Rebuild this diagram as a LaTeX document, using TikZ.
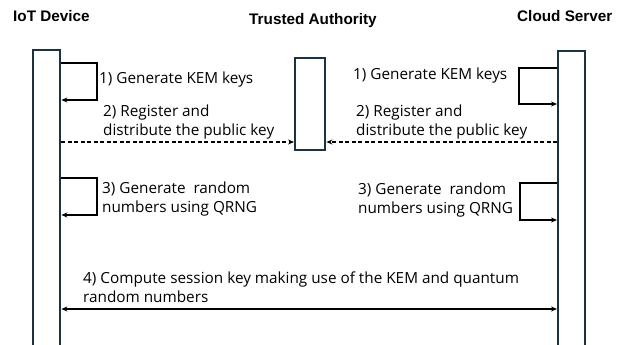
\documentclass[tikz,border=0pt]{standalone}
\usepackage{fontspec}
\setmainfont{Liberation Sans}
\newfontfamily\bodyfont{Open Sans}
\usetikzlibrary{arrows.meta,positioning}
\definecolor{barc}{HTML}{1B3340}
\tikzset{
  bar/.style={draw=barc, line width=2.4pt, fill=white, inner sep=0pt, minimum width=#1},
  head/.style={font=\bfseries\fontsize{15.3}{18}\selectfont, anchor=base west, inner sep=0pt},
  lbl/.style={font=\bodyfont\fontsize{15.3}{18.5}\selectfont, align=left, inner sep=0pt},
  msg/.style={line width=1.1pt, -{Stealth[length=6pt,width=5pt]}},
  dmsg/.style={msg, dash pattern=on 4pt off 2.5pt},
}
\begin{document}
\begin{tikzpicture}[x=1pt,y=-1pt]
\useasboundingbox (0,0) rectangle (630,345);
\clip (0,0) rectangle (630,345);
% headers
\node[head] (hiot) at (13,22) {IoT Device};
\node[head] (hta) at (249,25) {Trusted Authority};
\node[head] (hcs) at (517,22) {Cloud Server};
% lifelines
\node[bar=27pt, minimum height=310pt, anchor=north west] (iot) at (32,49) {};
\node[bar=30pt, minimum height=92pt, anchor=north west] (ta) at (294,57) {};
\node[bar=27pt, minimum height=310pt, anchor=north west] (cs) at (557,50) {};
% IoT self-loop 1
\coordinate (a1) at (iot.north east |- 0,63);
\coordinate (a2) at (iot.north east |- 0,100);
\draw[msg] (a1) -| (97,100) -- (a2);
\node[lbl, anchor=west] (t1) at (99,80) {1) Generate KEM keys};
% Cloud self-loop 1
\coordinate (c1) at (cs.north west |- 0,68);
\coordinate (c2) at (cs.north west |- 0,104);
\draw[msg] (c1) -| (519,104) -- (c2);
\node[lbl, anchor=west] (t1c) at (353,76) {1) Generate KEM keys};
% register
\coordinate (r1) at (iot.north east |- 0,142);
\coordinate (r2) at (ta.north west |- 0,142);
\coordinate (r3) at (cs.north west |- 0,142);
\coordinate (r4) at (ta.north east |- 0,142);
\draw[dmsg] (r1) -- (r2);
\draw[dmsg] (r3) -- (r4);
\node[lbl, anchor=south west] (t2) at (103,139) {2) Register and\\distribute the public key};
\node[lbl, anchor=south west] (t2c) at (356,139) {2) Register and\\distribute the public key};
% IoT self-loop 3
\coordinate (b1) at (iot.north east |- 0,178);
\coordinate (b2) at (iot.north east |- 0,215);
\draw[msg] (b1) -| (97,215) -- (b2);
\node[lbl, anchor=west] (t3) at (102,199) {3) Generate~~random\\numbers using QRNG};
% Cloud self-loop 3
\coordinate (d1) at (cs.north west |- 0,183);
\coordinate (d2) at (cs.north west |- 0,220);
\draw[msg] (d1) -| (520,220) -- (d2);
\node[lbl, anchor=west] (t3c) at (358,200) {3) Generate~~random\\numbers using QRNG};
% session key
\coordinate (s1) at (iot.north east |- 0,309);
\coordinate (s2) at (cs.north west |- 0,309);
\draw[msg, {Stealth[length=6pt,width=5pt]}-{Stealth[length=6pt,width=5pt]}] (s1) -- (s2);
\node[lbl, anchor=west] (t4) at (83,287) {4) Compute session key making use of the KEM and quantum\\random numbers};
\end{tikzpicture}
\end{document}
